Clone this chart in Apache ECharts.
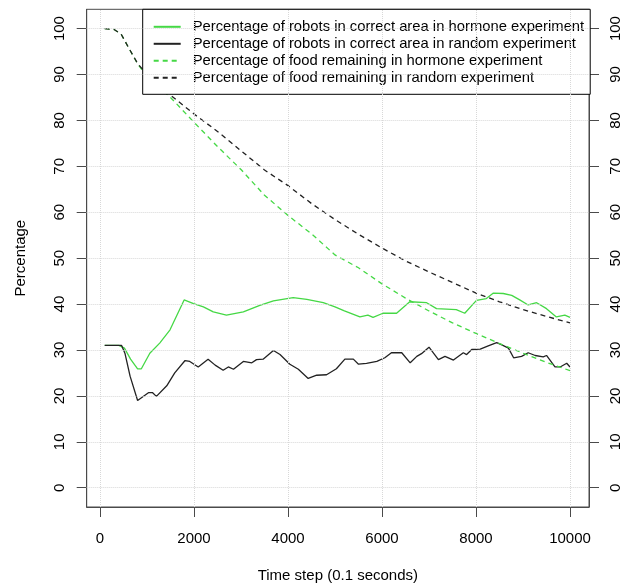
<!DOCTYPE html>
<html>
<head>
<meta charset="utf-8">
<script src="https://cdn.jsdelivr.net/npm/echarts@6/dist/echarts.min.js"></script>
<style>
html,body{margin:0;padding:0;background:#fff;}
#chart{width:635px;height:588px;}
</style>
</head>
<body>
<div id="chart"></div>
<script>
// ---- Data ----
var seriesNames = [
  'Percentage of robots in correct area in hormone experiment',
  'Percentage of robots in correct area in random experiment',
  'Percentage of food remaining in hormone experiment',
  'Percentage of food remaining in random experiment'
];
var xTicks = [0, 2000, 4000, 6000, 8000, 10000];
var yTicks = [0, 10, 20, 30, 40, 50, 60, 70, 80, 90, 100];

var robotsHormone = [
  [100,31],[400,31],[520,30.4],[650,28],[800,25.9],[880,25.9],[1060,29.3],[1270,31.5],
  [1490,34.4],[1790,40.9],[1990,40.1],[2200,39.4],[2410,38.3],[2690,37.6],[3050,38.3],
  [3400,39.7],[3690,40.7],[4110,41.4],[4400,41.0],[4750,40.3],[5000,39.4],[5200,38.5],
  [5530,37.2],[5700,37.6],[5810,37.1],[6020,38.0],[6310,38.0],[6590,40.5],[6950,40.3],
  [7160,39.0],[7580,38.8],[7760,38.0],[8010,40.8],[8220,41.2],[8370,42.4],[8580,42.3],
  [8760,41.9],[8930,40.9],[9110,39.8],[9290,40.3],[9500,39.0],[9710,37.2],[9890,37.6],[10000,37.1]
];
var robotsRandom = [
  [100,31],[460,31],[530,29.3],[640,24.3],[800,19.0],[1030,20.7],[1120,20.7],[1200,19.9],
  [1420,22.2],[1590,25.0],[1810,27.7],[1910,27.5],[2090,26.3],[2300,28.0],[2450,26.7],
  [2620,25.6],[2730,26.3],[2840,25.8],[3050,27.5],[3230,27.2],[3330,27.9],[3470,28.0],
  [3690,29.9],[3830,29.0],[4040,26.9],[4220,25.8],[4430,23.8],[4610,24.5],[4820,24.6],
  [5030,25.9],[5210,28.0],[5390,28.0],[5500,26.9],[5670,27.1],[5890,27.5],[6060,28.3],
  [6200,29.4],[6420,29.4],[6600,27.2],[6740,28.6],[6840,29.2],[7000,30.6],[7200,27.9],
  [7340,28.6],[7520,27.8],[7730,29.4],[7800,29.0],[7910,30.1],[8090,30.2],[8260,30.9],
  [8440,31.6],[8550,31.1],[8690,30.4],[8800,28.3],[8970,28.6],[9110,29.4],[9260,28.8],
  [9430,28.5],[9500,28.8],[9680,26.3],[9790,26.3],[9930,27.1],[10000,26.3]
];
var foodHormone = [
  [100,100],[300,99.8],[450,98.8],[600,96.0],[800,92.3],[1000,89.6],[1500,85.0],[2000,79.6],
  [2500,74.3],[3000,69.3],[3500,63.7],[4000,59.3],[4500,55.3],[5000,50.7],[5500,47.9],
  [6000,44.4],[6500,41.3],[7000,38.5],[7500,35.9],[8000,33.6],[8500,31.4],[9000,29.3],
  [9500,27.3],[10000,25.5]
];
var foodRandom = [
  [100,100],[300,99.8],[450,98.8],[600,96.0],[800,92.4],[1000,90.0],[1500,85.5],[2000,81.4],
  [2500,77.6],[3000,73.4],[3500,69.2],[4000,65.8],[4500,61.9],[5000,58.4],[5500,55.2],
  [6000,52.2],[6500,49.4],[7000,47.0],[7500,44.7],[8000,42.4],[8500,40.5],[9000,38.8],
  [9500,37.3],[10000,35.9]
];

// ---- Chart ----
var FONT = '"Liberation Sans", Arial, Helvetica, sans-serif';
var GREEN = '#45d845';
var BLACK = '#222222';
var AXIS = '#4a4a4a';

var chart = echarts.init(document.getElementById('chart'), null, {renderer: 'canvas'});

function plain(v) { return String(v); }

function yAxisCfg(pos) {
  return {
    type: 'value', position: pos, min: -4.2, max: 104.2,
    name: pos === 'left' ? 'Percentage' : '',
    nameLocation: 'middle', nameGap: 58, nameRotate: 90,
    nameTextStyle: {fontFamily: FONT, fontSize: 15, color: '#000'},
    axisLine: {show: true, onZero: false, lineStyle: {color: AXIS, width: 1}},
    axisTick: {show: true, inside: false, length: 10, customValues: yTicks, lineStyle: {color: AXIS, width: 1}},
    axisLabel: {show: true, customValues: yTicks, rotate: 90, margin: 19, formatter: plain, fontFamily: FONT, fontSize: 15, color: '#000'},
    splitLine: {show: false}
  };
}

chart.setOption({
  animation: false,
  backgroundColor: '#fff',
  grid: {left: 86.7, right: 46, top: 9.3, bottom: 75.7, show: true, borderColor: AXIS, borderWidth: 1, backgroundColor: 'transparent'},
  legend: {
    data: seriesNames,
    orient: 'vertical', left: 142.7, top: 9.3,
    itemWidth: 27, itemHeight: 14, itemGap: 2,
    padding: [10, 6, 9, 10],
    borderColor: '#000', borderWidth: 1, backgroundColor: '#fff',
    itemStyle: {opacity: 0},
    textStyle: {fontFamily: FONT, fontSize: 14.8, color: '#000', padding: [0, 0, 0, 7]},
    selectedMode: false
  },
  xAxis: {
    type: 'value', min: -283, max: 10404,
    name: 'Time step (0.1 seconds)', nameLocation: 'middle', nameGap: 61,
    nameTextStyle: {fontFamily: FONT, fontSize: 15, color: '#000'},
    axisLine: {show: true, onZero: false, lineStyle: {color: AXIS, width: 1}},
    axisTick: {show: true, inside: false, length: 10, customValues: xTicks, lineStyle: {color: AXIS, width: 1}},
    axisLabel: {show: true, customValues: xTicks, margin: 24, formatter: plain, fontFamily: FONT, fontSize: 15, color: '#000'},
    splitLine: {show: false}
  },
  yAxis: [yAxisCfg('left'), yAxisCfg('right')],
  series: [
    {
      type: 'line', name: '_grid', data: [], z: 1, silent: true,
      markLine: {
        silent: true, symbol: ['none', 'none'], label: {show: false},
        lineStyle: {color: '#d8d8d8', type: 'dotted', width: 1},
        emphasis: {disabled: true},
        data: xTicks.map(function (v) { return {xAxis: v}; }).concat(yTicks.map(function (v) { return {yAxis: v}; }))
      }
    },
    {type: 'line', name: seriesNames[0], data: robotsHormone, symbol: 'none', z: 3,
     lineStyle: {color: GREEN, width: 1.3, type: 'solid'}, itemStyle: {color: GREEN}},
    {type: 'line', name: seriesNames[1], data: robotsRandom, symbol: 'none', z: 3,
     lineStyle: {color: BLACK, width: 1.3, type: 'solid'}, itemStyle: {color: BLACK}},
    {type: 'line', name: seriesNames[2], data: foodHormone, symbol: 'none', z: 3,
     lineStyle: {color: GREEN, width: 1.3, type: [5, 4]}, itemStyle: {color: GREEN}},
    {type: 'line', name: seriesNames[3], data: foodRandom, symbol: 'none', z: 3,
     lineStyle: {color: BLACK, width: 1.3, type: [5, 4]}, itemStyle: {color: BLACK}}
  ]
});
</script>
</body>
</html>
